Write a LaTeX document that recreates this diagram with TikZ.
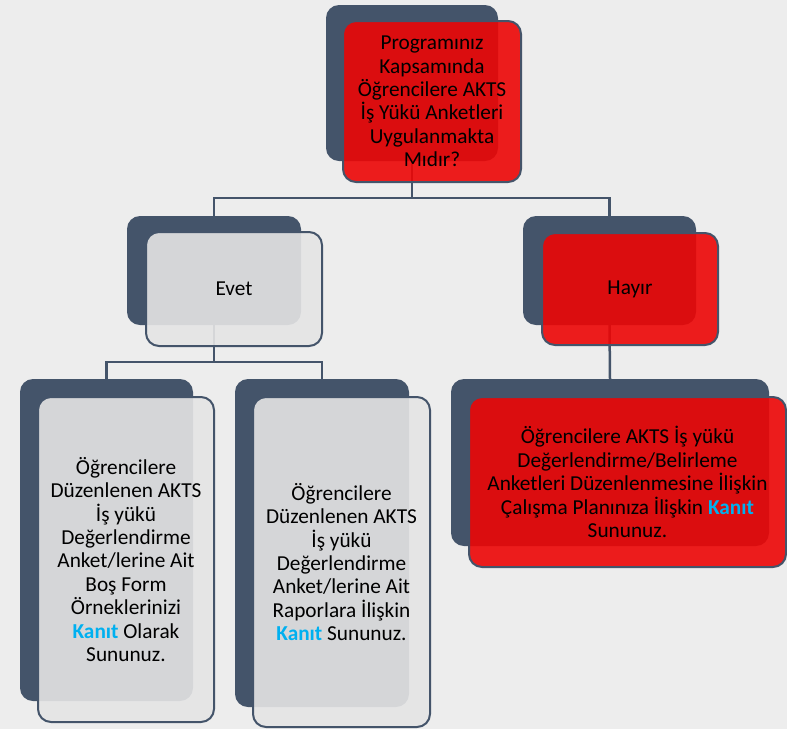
\documentclass[tikz,border=0pt]{standalone}
\usepackage{fontspec}
\setmainfont{Carlito}
\definecolor{slate}{RGB}{68,84,106}
\definecolor{bgc}{RGB}{237,237,237}
\definecolor{redf}{RGB}{236,6,6}
\definecolor{grayf}{RGB}{229,229,229}
\definecolor{kanitblue}{RGB}{0,176,240}
\newcommand{\kanitword}{\textcolor{kanitblue}{\textbf{Kanıt}}}
\begin{document}
\begin{tikzpicture}[x=1pt,y=-1pt,
  backbox/.style={fill=slate, rounded corners=13pt, inner sep=0pt, outer sep=0pt},
  frontbox/.style={draw=slate, line width=2pt, rounded corners=13pt, fill opacity=0.9, text opacity=1,
    align=center, font=\fontsize{21.3}{23.4}\selectfont, inner sep=0pt, outer sep=0pt},
  redbox/.style={frontbox, fill=redf},
  graybox/.style={frontbox, fill=grayf},
  conn/.style={draw=slate, line width=2.5pt}]
\fill[bgc] (0,0) rectangle (787,729);
\useasboundingbox (0,0) rectangle (787,729);
% back boxes
\node[backbox, minimum width=172pt, minimum height=156pt] (tB) at (412,83) {};
\node[backbox, minimum width=174pt, minimum height=109pt] (eB) at (214,270.5) {};
\node[backbox, minimum width=173pt, minimum height=109pt] (hB) at (609.5,270.5) {};
\node[backbox, minimum width=173pt, minimum height=322pt] (lB) at (106.5,540) {};
\node[backbox, minimum width=174pt, minimum height=328pt] (mB) at (322,543) {};
\node[backbox, minimum width=318pt, minimum height=167pt] (hcB) at (610,462.5) {};
% connectors
\coordinate (j1) at (412,198);
\coordinate (j2) at (214,362);
\draw[conn] (tB.south) -- (j1);
\draw[conn] (eB.north) |- (j1) -| (hB.north);
\draw[conn] (eB.south) -- (j2);
\draw[conn] (lB.north) |- (j2) -| (mB.north);
\draw[conn] (hB.south) -- (hcB.north);
% front boxes
\node[redbox, minimum width=178pt, minimum height=161pt] (tF) at (432,101.5)
  {Programınız\\Kapsamında\\Öğrencilere AKTS\\İş Yükü Anketleri\\Uygulanmakta\\Mıdır?};
\node[graybox, minimum width=176pt, minimum height=114pt] (eF) at (234,289) {Evet};
\node[redbox, minimum width=176pt, minimum height=112pt] (hF) at (630,289) {Hayır};
\node[graybox, minimum width=176pt, minimum height=325pt] (lF) at (126,559.5)
  {Öğrencilere\\Düzenlenen AKTS\\İş yükü\\Değerlendirme\\Anket/lerine Ait\\Boş Form\\Örneklerinizi\\\kanitword{} Olarak\\Sununuz.};
\node[graybox, minimum width=177pt, minimum height=330pt] (mF) at (341.5,562)
  {Öğrencilere\\Düzenlenen AKTS\\İş yükü\\Değerlendirme\\Anket/lerine Ait\\Raporlara İlişkin\\\kanitword{} Sununuz.};
\node[redbox, minimum width=317pt, minimum height=170pt] (hcF) at (627.5,482)
  {Öğrencilere AKTS İş yükü\\Değerlendirme/Belirleme\\Anketleri Düzenlenmesine İlişkin\\Çalışma Planınıza İlişkin \kanitword\\Sununuz.};
\end{tikzpicture}
\end{document}
